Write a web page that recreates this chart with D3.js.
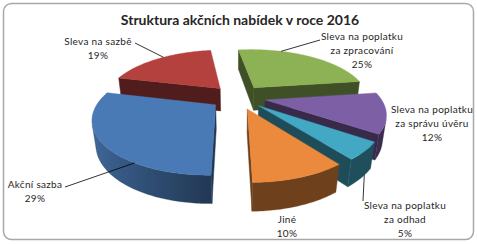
<!DOCTYPE html>
<html><head><meta charset="utf-8">
<script src="https://cdn.jsdelivr.net/npm/d3@7"></script>
<style>html,body{margin:0;padding:0;background:#fff;} svg{display:block;}</style>
</head><body><svg id="chart" width="477" height="244"></svg>
<script>
// ---- data ----
const title = "Struktura akčních nabídek v roce 2016";
const categories = ["Sleva na poplatku za zpracování","Sleva na poplatku za správu úvěru","Sleva na poplatku za odhad","Jiné","Akční sazba","Sleva na sazbě"];
const labelLines = [["Sleva na poplatku","za zpracování"],["Sleva na poplatku","za správu úvěru"],["Sleva na poplatku","za odhad"],["Jiné"],["Akční sazba"],["Sleva na sazbě"]];
const values = [25,12,5,10,29,19];
const colors = ["#8DB255","#7D5FA5","#42A8C4","#EB8A3C","#4A7AB5","#B5413E"];

// ---- layout ----
const W = 477, H = 244;
const cx = 238, cy = 97;          // projected pie origin
const alpha = 26 * Math.PI/180;   // elevation
const Ldist = 4.0, focal = 460;   // perspective
const thick = 0.23, explode = 0.24;
const startDeg = -8;
// label layout: [centerX, firstBaseline]
const labelPos = [[362,40],[432,113],[405,209],[287,223],[35,188],[98,45]];
// leader: [x1,y1 near label, rim position fraction of slice]
const leaders = [[320,40,0.3],null,[363,201,0.35],null,[65,187,0.3],[135,43,0.55]];

const s = Math.sin(alpha), c = Math.cos(alpha);
const cam = [0, Ldist*s, -Ldist*c];
function proj(X,Y,Z){
  const depth = Ldist + Z*c - Y*s;
  const up = Y*c + Z*s;
  return [cx + focal*X/depth, cy - focal*up/depth];
}
function visible(n, p){
  return n[0]*(cam[0]-p[0]) + n[1]*(cam[1]-p[1]) + n[2]*(cam[2]-p[2]) > 1e-9;
}
function shade(col,k){ const r=d3.rgb(col); return d3.rgb(Math.min(255,r.r*k),Math.min(255,r.g*k),Math.min(255,r.b*k)).formatHex(); }
function wallK(th){
  const d = Math.cos(th - 1.5*Math.PI);
  return 0.47 + 0.42*Math.max(0,d);
}

const svg = d3.select("#chart");
const defs = svg.append("defs");
svg.append("rect").attr("x",3.5).attr("y",3.5).attr("width",W-7).attr("height",H-8)
  .attr("rx",8).attr("fill","#fff").attr("stroke","#A8A8A8").attr("stroke-width",1.5);

svg.append("text").attr("x",240).attr("y",25).attr("text-anchor","middle")
  .attr("font-family","Lato, 'Open Sans', sans-serif").attr("font-weight","bold")
  .attr("font-size",14).attr("fill","#262626").text(title);

const st = startDeg*Math.PI/180;
const pie = d3.pie().sort(null).startAngle(st).endAngle(st+2*Math.PI);
const arcs = pie(values).map((d,i)=>{
  const mid = (d.startAngle+d.endAngle)/2;
  return {i, a0:d.startAngle, a1:d.endAngle, mid, ax:explode*Math.sin(mid), az:explode*Math.cos(mid), depth: Math.cos(mid)};
});
const line = d3.line();
const g = svg.append("g");

arcs.slice().sort((a,b)=>b.depth-a.depth).forEach(a=>{
  const col = colors[a.i];
  const sg = g.append("g");
  const rim = (th,Y)=>[a.ax+Math.sin(th), Y, a.az+Math.cos(th)];
  const apex = Y=>[a.ax, Y, a.az];
  const P = p=>proj(p[0],p[1],p[2]);
  const faces = [
    {th:a.a0, n:[-Math.cos(a.a0),0,Math.sin(a.a0)]},
    {th:a.a1, n:[Math.cos(a.a1),0,-Math.sin(a.a1)]}
  ];
  faces.forEach(f=>{
    const mp = [a.ax+0.5*Math.sin(f.th), -thick/2, a.az+0.5*Math.cos(f.th)];
    if(visible(f.n, mp)){
      const pts=[apex(0),rim(f.th,0),rim(f.th,-thick),apex(-thick)].map(P);
      sg.append("path").attr("d",line(pts)+"Z").attr("fill",shade(col,0.45))
        .attr("stroke",shade(col,0.45)).attr("stroke-width",0.5).attr("stroke-linejoin","round");
    }
  });
  const step = 1*Math.PI/180;
  const n = Math.max(4, Math.ceil((a.a1-a.a0)/step));
  const vis = [];
  for(let k=0;k<=n;k++){
    const t=a.a0+(a.a1-a.a0)*k/n;
    if(visible([Math.sin(t),0,Math.cos(t)], rim(t,-thick/2))) vis.push(t);
  }
  if(vis.length>1){
    const topL = vis.map(t=>P(rim(t,0)));
    const botL = vis.map(t=>P(rim(t,-thick))).reverse();
    const xs = topL.map(p=>p[0]);
    const xmin=d3.min(xs), xmax=d3.max(xs);
    const gid="wg"+a.i;
    const gr = defs.append("linearGradient").attr("id",gid).attr("gradientUnits","userSpaceOnUse")
      .attr("x1",xmin).attr("x2",xmax).attr("y1",0).attr("y2",0);
    const stops = vis.map((t,j)=>({o:(xs[j]-xmin)/Math.max(1e-6,xmax-xmin), col:shade(col,wallK(t))}))
      .sort((p,q)=>p.o-q.o);
    stops.forEach(sp=>gr.append("stop").attr("offset",sp.o).attr("stop-color",sp.col));
    sg.append("path").attr("d",line(topL.concat(botL))+"Z").attr("fill",`url(#${gid})`)
      .attr("stroke",shade(col,0.5)).attr("stroke-width",0.3);
  }
  const topPts=[P(apex(0))];
  const m = Math.ceil((a.a1-a.a0)/(1*Math.PI/180));
  for(let k=0;k<=m;k++){ const t=a.a0+(a.a1-a.a0)*k/m; topPts.push(P(rim(t,0))); }
  sg.append("path").attr("d",line(topPts)+"Z").attr("fill",col).attr("stroke",col).attr("stroke-width",0.4).attr("stroke-linejoin","round");
  a.rimAt = fr => P(rim(a.a0+(a.a1-a.a0)*fr,0));
  a.botAt = fr => P(rim(a.a0+(a.a1-a.a0)*fr,-thick));
});

const lab = svg.append("g").attr("font-family","Lato, 'Open Sans', sans-serif").attr("font-size",10)
  .attr("letter-spacing",0.3).attr("fill","#262626");
arcs.forEach(a=>{
  const [lx,ly]=labelPos[a.i];
  const lines = labelLines[a.i].concat([Math.round(values[a.i])+"%"]);
  lines.forEach((t,j)=>{
    lab.append("text").attr("x",lx).attr("y",ly+j*14).attr("text-anchor","middle").text(t);
  });
  const ld = leaders[a.i];
  if(ld){
    const tp = a.i===2 ? a.botAt(ld[2]) : a.rimAt(ld[2]);
    svg.append("path").attr("d",line([[ld[0],ld[1]],tp])).attr("stroke","#000").attr("stroke-width",0.8).attr("fill","none");
  }
});
</script></body></html>
